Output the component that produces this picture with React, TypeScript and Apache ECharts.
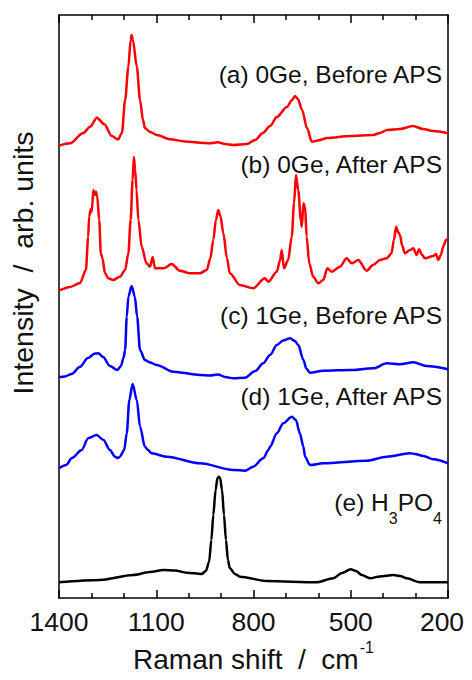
import React, { useEffect, useRef } from "react";
import * as echarts from "echarts";

// Raman shift (cm-1) and intensity (arb. units, traces stacked)
const waveA = [1400,1366,1326,1304,1283,1261,1237,1218,1206,1196,1186,1179,1176,1172,1160,1150,1141,1135,1119,1098,1058,1011,965,934,910,888,863,820,795,771,749,728,697,681,672,663,650,635,620,601,573,502,431,410,388,348,308,277,246,200];
const intA = [452.3,454.7,464.7,471.3,480.3,474,462,458.5,465,498,531.3,558,563,558,531.3,498,478,470,466,463,458.7,456.5,455.3,454.7,455.7,454,453,454,458,465,472,481,491,498,502,499,488,470,456.3,457.5,460,462,463,465,468,469,472,469,467,464.7];

const waveB = [1400,1366,1335,1317,1310,1307,1302,1299,1294,1291,1286,1282,1276,1271,1266,1258,1248,1233,1212,1196,1186,1179,1173,1169,1165,1161,1155,1145,1130,1119,1111,1104,1078,1052,1027,996,965,944,933,924,916,909,902,893,882,873,842,801,765,754,728,718,713,706,693,682,675,669,662,654,651,646,641,636,628,616,600,585,572,559,533,513,497,477,451,431,410,389,374,367,360,354,348,342,333,317,307,297,289,280,271,245,237,230,222,215,206,200];
const intB = [307.3,311,315,328,361.3,381.3,388.7,386,408,403,406.3,401.3,378,344.7,339.7,324.7,319.7,318,321.3,328,344.7,378,418,441,428,408,378,351.3,334.7,331.3,341,329.7,329.7,334,327.3,324.7,324.7,328,340,358,378,388,382,364.7,340,324.7,313,309.7,319.7,316.3,326.3,338,348,329.7,338,361.3,394.7,423,408,378,371.3,394.7,391.3,361.3,334.7,321.3,314.7,318,329.7,326.3,331.3,339.7,334.7,338,327.3,333,338,339.7,344.7,358,371.3,366,363,353,344.7,348,349.7,343,348.7,343,339.7,342,344,338,343,351.3,358,359.7];

const waveC = [1400,1382,1361,1335,1311,1289,1279,1264,1243,1220,1209,1201,1196,1191,1186,1176,1166,1159,1150,1135,1119,1099,1047,965,934,909,888,862,826,795,770,749,728,709,687,672,662,646,637,626,585,502,430,389,348,307,266,200];
const intC = [220.7,221.5,224,231.3,240,244.5,244.7,241,232,228,232,240,248,281.3,301.3,312,301.3,281.3,248,238,235.5,233,226.3,223,222.5,223.5,221,219.7,220.3,227,234.7,243,253,257.5,259.7,257,253,238,229.5,225.3,227.3,228,229.7,234.7,233.7,235.7,232,228.7];

const waveD = [1400,1378,1360,1330,1310,1284,1263,1243,1227,1218,1212,1199,1191,1183,1173,1160,1150,1135,1125,1114,1068,965,862,826,801,770,754,749,728,708,682,669,657,646,641,626,585,451,389,317,302,276,245,200];
const intD = [129.7,133,140,148,159.7,163,158,148,141.3,140,141.3,148,164.7,198,214,198,171.3,151.3,148,144.7,141.3,134.7,128,127.3,131.3,139.7,148,151.3,164.7,174.7,181.3,178,164.7,151.3,141.3,133,134.7,137.3,141.3,144.7,144,142,138.7,134.7];

const waveE = [1400,1274,1171,1119,1078,1042,1006,960,947,937,930,924,917,911,907,903,897,891,885,879,873,857,842,759,605,554,527,500,484,466,441,410,369,348,327,286,200];
const intE = [15.7,18,23,26,28,27.5,25.3,24,27,36,58,83,108,120,121.3,120,108,83,58,38,29.7,24,21.3,17,15.7,19.7,25,28.7,27,23,19.7,21.5,23,22,19.7,15.7,15.7];

const seriesNames = ["(a) 0Ge, Before APS", "(b) 0Ge, After APS", "(c) 1Ge, Before APS", "(d) 1Ge, After APS", "(e) H3PO4"];
const xMin = 200;
const xMax = 1400;
const xStep = 300;
const yMax = 583;

const FONT = "'Liberation Sans', Arial, Helvetica, sans-serif";

function pairs(w: number[], v: number[]) {
  return w.map((x, i) => [x, v[i]]);
}

export default function App() {
  const ref = useRef<HTMLDivElement>(null);
  useEffect(() => {
    const chart = echarts.init(ref.current!, null, { renderer: "svg" });
    const mkSeries = (name: string, w: number[], v: number[], color: string) => ({
      name,
      type: "line",
      data: pairs(w, v),
      showSymbol: false,
      symbol: "none",
      smooth: 0.3,
      smoothMonotone: "x",
      lineStyle: { color, width: 2.5 },
      xAxisIndex: 0,
      yAxisIndex: 0,
      z: 3,
    });
    const xCommon = {
      type: "value",
      min: xMin,
      max: xMax,
      interval: xStep,
      inverse: true,
      splitLine: { show: false },
      axisLine: { show: true, onZero: false, lineStyle: { color: "#000", width: 1.5 } },
      axisTick: { show: true, inside: true, length: 8, lineStyle: { color: "#000", width: 1.5 } },
      minorTick: { show: true, splitNumber: 3, length: 5, lineStyle: { color: "#000", width: 1.5 } },
      minorSplitLine: { show: false },
    };
    const labelStyle = { fill: "#111", fontSize: 24.5, fontFamily: FONT, align: "right", textAlign: "right", verticalAlign: "middle", textVerticalAlign: "middle" };
    const option: any = {
      animation: false,
      backgroundColor: "#fff",
      grid: { left: 59, right: 24, top: 15, bottom: 82, containLabel: false, outerBoundsMode: "none" },
      xAxis: [
        {
          ...xCommon,
          position: "bottom",
          name: "{n|Raman shift  /  cm}{p|-1}",
          nameLocation: "middle",
          nameGap: 39,
          nameTextStyle: {
            rich: {
              n: { fontSize: 28, lineHeight: 28, fontFamily: FONT, color: "#111", verticalAlign: "top", padding: [6, 0, 0, 0] },
              p: { fontSize: 16, lineHeight: 16, fontFamily: FONT, color: "#111", verticalAlign: "top", padding: [0, 0, 0, 1] },
            },
          },
          axisLabel: {
            show: true,
            fontSize: 26.5,
            fontFamily: FONT,
            color: "#111",
            margin: 10,
            formatter: (v: number) => (v === xMin ? "{last|" + v + "}" : String(v)),
            rich: { last: { fontSize: 26.5, fontFamily: FONT, color: "#111", padding: [0, 12, 0, 0] } },
          },
        },
        { ...xCommon, position: "top", axisLabel: { show: false } },
      ],
      yAxis: [
        { type: "value", min: 0, max: yMax, position: "left", axisLine: { show: true, lineStyle: { color: "#000", width: 1.5 } }, axisTick: { show: false }, axisLabel: { show: false }, splitLine: { show: false } },
        { type: "value", min: 0, max: yMax, position: "right", axisLine: { show: true, lineStyle: { color: "#000", width: 1.5 } }, axisTick: { show: false }, axisLabel: { show: false }, splitLine: { show: false } },
      ],
      series: [
        mkSeries(seriesNames[0], waveA, intA, "#ff0000"),
        mkSeries(seriesNames[1], waveB, intB, "#ff0000"),
        mkSeries(seriesNames[2], waveC, intC, "#0000ff"),
        mkSeries(seriesNames[3], waveD, intD, "#0000ff"),
        mkSeries(seriesNames[4], waveE, intE, "#000000"),
      ],
      graphic: [
        {
          type: "text",
          x: 23,
          y: 263,
          rotation: Math.PI / 2,
          style: { text: "Intensity  /  arb. units", fill: "#111", fontSize: 28.5, fontFamily: FONT, align: "center", textAlign: "center", verticalAlign: "middle", textVerticalAlign: "middle" },
        },
        { type: "text", x: 442, y: 74.5, style: { text: seriesNames[0], ...labelStyle } },
        { type: "text", x: 442, y: 164.5, style: { text: seriesNames[1], ...labelStyle } },
        { type: "text", x: 442, y: 315.5, style: { text: seriesNames[2], ...labelStyle } },
        { type: "text", x: 442, y: 396, style: { text: seriesNames[3], ...labelStyle } },
        {
          type: "text",
          x: 442,
          y: 490,
          style: {
            text: "{m|(e) H}{s|3}{m|PO}{s|4}",
            fill: "#111",
            fontSize: 24.5,
            fontFamily: FONT,
            align: "right",
            textAlign: "right",
            verticalAlign: "top",
            textVerticalAlign: "top",
            rich: {
              m: { fontSize: 24.5, lineHeight: 24, fontFamily: FONT, fill: "#111", verticalAlign: "top" },
              s: { fontSize: 16, lineHeight: 16, fontFamily: FONT, fill: "#111", verticalAlign: "top", padding: [20, 0, 0, 0] },
            },
          },
        },
      ],
    };
    chart.setOption(option);
    return () => chart.dispose();
  }, []);
  return <div ref={ref} style={{ position: "fixed", left: 0, top: 0, width: 472, height: 680 }} />;
}
